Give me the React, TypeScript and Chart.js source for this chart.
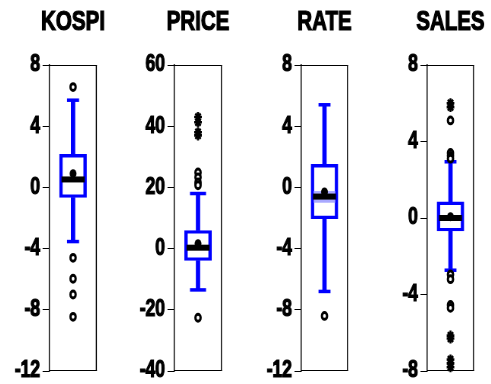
import React, { useEffect, useRef } from 'react';
import { Chart, registerables } from 'chart.js';
Chart.register(...registerables);

const names = ['KOSPI', 'PRICE', 'RATE', 'SALES'];
const yMin = [-12, -40, -12, -8];
const yMax = [8, 60, 8, 8];
const yStep = [4, 20, 4, 4];
const q1 = [-0.66, -3.9, -2.05, -0.68];
const q3 = [2.16, 5.9, 1.5, 0.84];
const medians = [0.52, 0.3, -0.6, 0];
const means = [0.9, 1.6, -0.3, 0.07];
const whiskerLo = [-3.54, -13.5, -6.8, -2.73];
const whiskerHi = [5.7, 18, 5.4, 2.94];
const medianBandLo: (number | null)[] = [null, null, -0.98, null];
const medianBandHi: (number | null)[] = [null, null, -0.26, null];
const circleOutliers = [
  [6.56, -4.6, -5.97, -7.0, -8.46],
  [24.9, 23.3, 21.6, 20.7, -22.6],
  [-8.4],
  [5.1, 3.4, 3.25, 3.1, -2.95, -3.2, -4.55, -4.7],
];
const starOutliers = [
  [],
  [43, 41.3, 38, 37],
  [],
  [6.0, 5.8, -6.15, -6.3, -7.4, -7.6, -7.8],
];

// horizontal squeeze of the whole picture (the original is drawn in a narrow style)
const SX = 0.76;
const ix = (px: number) => px / SX;

const panelLeft = [0, 125, 252, 378];
const panelWidth = [125, 127, 126, 113];
const plotWidth = [48, 48, 47, 47];
const capRadius = [6, 8, 6, 6];
const FONT = "'Liberation Sans', Arial, sans-serif";
const BLUE = '#0000ff';
const AXIS_W = 49;

const framePlugin = {
  id: 'frame',
  afterDatasetsDraw(chart: any) {
    const { ctx, chartArea } = chart;
    const { left, right, top, bottom } = chartArea;
    ctx.save();
    ctx.strokeStyle = '#000';
    ctx.lineWidth = 1;
    ctx.beginPath();
    ctx.moveTo(left, top + 0.5);
    ctx.lineTo(right, top + 0.5);
    ctx.moveTo(left, bottom - 0.5);
    ctx.lineTo(right, bottom - 0.5);
    ctx.stroke();
    ctx.lineWidth = ix(1.1);
    ctx.beginPath();
    ctx.moveTo(right - ix(0.6), top);
    ctx.lineTo(right - ix(0.6), bottom);
    ctx.stroke();
    ctx.restore();
  },
};

const titlePlugin = {
  id: 'panelTitle',
  afterDraw(chart: any, _args: any, opts: any) {
    const { ctx, chartArea } = chart;
    ctx.save();
    ctx.font = `bold 27px ${FONT}`;
    ctx.textAlign = 'center';
    ctx.textBaseline = 'alphabetic';
    ctx.fillStyle = '#000';
    ctx.strokeStyle = '#000';
    ctx.lineWidth = 1.2;
    const cx = (chartArea.left + chartArea.right) / 2;
    ctx.fillText(opts.text, cx, 29.5);
    ctx.strokeText(opts.text, cx, 29.5);
    ctx.restore();
  },
};

function Panel({ i }: { i: number }) {
  const ref = useRef<HTMLCanvasElement>(null);
  useEffect(() => {
    const name = names[i];
    const pts = (vals: number[]) => vals.map((v) => ({ x: name, y: v }));
    const datasets: any[] = [
      { type: 'bar', data: [[whiskerLo[i], q1[i]]], backgroundColor: BLUE, barThickness: ix(3.8), grouped: false, order: 7 },
      { type: 'bar', data: [[q3[i], whiskerHi[i]]], backgroundColor: BLUE, barThickness: ix(3.8), grouped: false, order: 7 },
      {
        type: 'bar', data: [[q1[i], q3[i]]], backgroundColor: '#ffffff', borderColor: BLUE,
        borderWidth: { left: ix(3.4), right: ix(3.4), top: 3.4, bottom: 3.4 }, borderSkipped: false,
        barThickness: ix(27), grouped: false, order: 5,
      },
    ];
    if (medianBandLo[i] !== null) {
      datasets.push({ type: 'bar', data: [[medianBandLo[i], medianBandHi[i]]], backgroundColor: '#a9a9ff', barThickness: ix(21), grouped: false, order: 4 });
    }
    datasets.push(
      { type: 'line', data: pts([whiskerLo[i], whiskerHi[i]]), showLine: false, pointStyle: 'line', pointRadius: ix(capRadius[i]), pointBorderWidth: 3.5, pointBorderColor: BLUE, order: 3 },
      { type: 'line', data: pts([medians[i]]), showLine: false, pointStyle: 'line', pointRadius: ix(11.5), pointBorderWidth: 6, pointBorderColor: '#000', order: 2 },
      { type: 'line', data: pts([means[i]]), showLine: false, pointStyle: 'circle', pointRadius: 4.5, pointBorderWidth: 0, pointBackgroundColor: '#000', order: 1 },
      { type: 'line', data: pts(circleOutliers[i]), showLine: false, pointStyle: 'circle', pointRadius: 3.4, pointBorderWidth: 3, pointBorderColor: '#000', pointBackgroundColor: '#fff', order: 0 },
      { type: 'line', data: pts(starOutliers[i]), showLine: false, pointStyle: 'star', pointRadius: 5, pointBorderWidth: 2.6, pointBorderColor: '#000', order: 0 },
    );
    datasets.forEach((d) => { d.clip = false; });
    const rightPad = ix(panelWidth[i] - AXIS_W - plotWidth[i]);
    const chart = new Chart(ref.current!, {
      type: 'bar',
      data: { labels: [name], datasets },
      plugins: [framePlugin, titlePlugin],
      options: {
        animation: false,
        responsive: false,
        events: [],
        layout: { autoPadding: false, padding: { top: 0, bottom: 13, left: 0, right: rightPad } },
        plugins: { legend: { display: false }, tooltip: { enabled: false }, panelTitle: { text: name } },
        scales: {
          x: {
            type: 'category',
            position: 'top',
            offset: true,
            ticks: { display: false },
            grid: { display: false },
            border: { display: false },
            afterFit: (s: any) => { s.height = 65; },
          },
          y: {
            min: yMin[i],
            max: yMax[i],
            ticks: {
              stepSize: yStep[i], color: '#000', padding: ix(2.5),
              font: { family: FONT, size: 23, weight: 'bold', lineHeight: 0.4 },
              textStrokeColor: '#000', textStrokeWidth: 1.2,
            },
            grid: { display: true, drawOnChartArea: false, drawTicks: true, tickLength: ix(6.5), color: '#000', lineWidth: 1 },
            border: { display: true, color: '#000', width: ix(1.1) },
            afterFit: (s: any) => { s.width = ix(AXIS_W); },
          },
        },
      } as any,
    });
    return () => chart.destroy();
  }, [i]);
  return (
    <div style={{ position: 'absolute', left: panelLeft[i], top: 0, width: panelWidth[i], height: 384 }}>
      <canvas ref={ref} width={Math.round(ix(panelWidth[i]))} height={384} style={{ display: 'block', width: panelWidth[i], height: 384 }} />
    </div>
  );
}

export default function App() {
  return (
    <div style={{ position: 'absolute', left: 0, top: 0, width: 491, height: 384, background: '#fff', overflow: 'hidden' }}>
      {names.map((_, i) => <Panel key={i} i={i} />)}
    </div>
  );
}
